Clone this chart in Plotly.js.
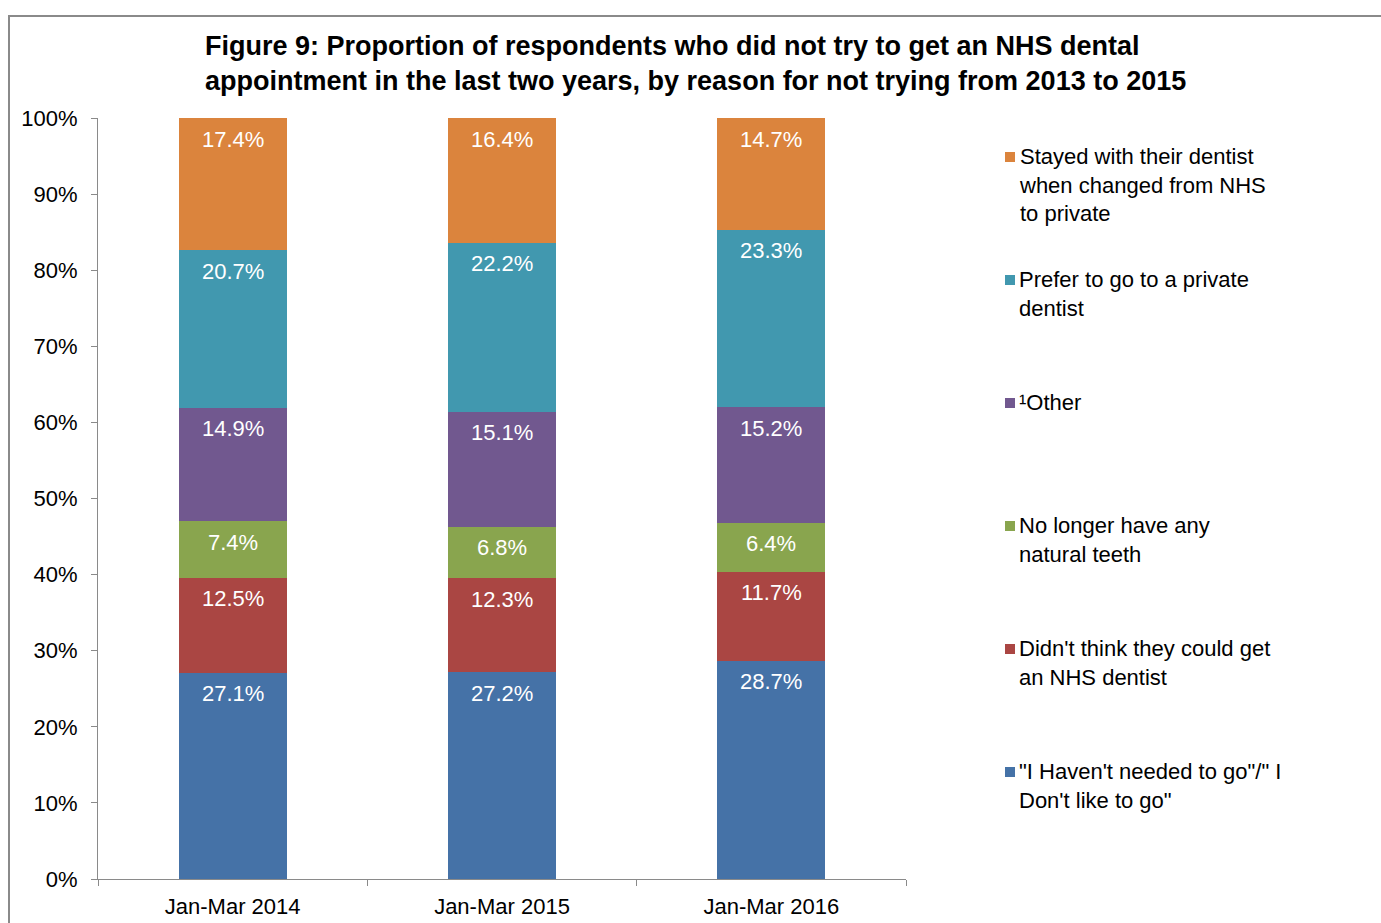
<!DOCTYPE html>
<html>
<head>
<meta charset="utf-8">
<script src="https://cdn.plot.ly/plotly-3.0.1.min.js"></script>
<style>html,body{margin:0;padding:0;background:#fff;}#chart{width:1381px;height:923px;}</style>
</head>
<body>
<div id="chart"></div>
<script>
const categories = ["Jan-Mar 2014", "Jan-Mar 2015", "Jan-Mar 2016"];
const seriesNames = [
  "\"I Haven't needed to go\"/\" I<br>Don't like to go\"",
  "Didn't think they could get<br>an NHS dentist",
  "No longer have any<br>natural teeth",
  "¹Other",
  "Prefer to go to a private<br>dentist",
  "Stayed with their dentist<br>when changed from NHS<br>to private"
];
const haventNeeded = [27.1, 27.2, 28.7];
const couldntGet   = [12.5, 12.3, 11.7];
const noTeeth      = [7.4, 6.8, 6.4];
const other        = [14.9, 15.1, 15.2];
const preferPrivate= [20.7, 22.2, 23.3];
const stayed       = [17.4, 16.4, 14.7];
const yTickVals = [0,10,20,30,40,50,60,70,80,90,100];
const yTickText = ["0%","10%","20%","30%","40%","50%","60%","70%","80%","90%","100%"];

const seriesValues = [haventNeeded, couldntGet, noTeeth, other, preferPrivate, stayed];
const colors = ["#4572A7", "#AA4643", "#89A54E", "#71588F", "#4198AF", "#DB843D"];
const FONT = "Liberation Sans, Arial, sans-serif";

const traces = seriesValues.map((vals, i) => ({
  type: "bar",
  x: categories,
  y: vals,
  name: seriesNames[i],
  width: 0.4,
  marker: {color: colors[i], line: {width: 0}},
  hoverinfo: "none",
  showlegend: false
}));

const annotations = [];
categories.forEach((c, ci) => {
  let cum = 0;
  seriesValues.forEach((vals, si) => {
    cum += vals[ci];
    annotations.push({
      x: c, y: cum, xref: "x", yref: "y",
      text: vals[ci].toFixed(1) + "%",
      showarrow: false, yanchor: "middle", yshift: -21,
      font: {family: FONT, size: 22, color: "#ffffff"}
    });
  });
});

const shapes = [];
const legendTop = 157;
const legendStep = 123;
const H = 923, plotTop = 118, plotBottom = 879, plotH = plotBottom - plotTop;
const plotLeft = 98, plotRight = 906, plotW = plotRight - plotLeft;
const px2x = p => (p - plotLeft) / plotW;
const px2y = p => (plotBottom - p) / plotH;
for (let k = 0; k < seriesNames.length; k++) {
  const si = seriesNames.length - 1 - k;
  const cy = legendTop + k * legendStep;
  shapes.push({
    type: "rect", xref: "paper", yref: "paper",
    x0: px2x(1005), x1: px2x(1015), y0: px2y(cy + 5), y1: px2y(cy - 5),
    fillcolor: colors[si], line: {width: 0}
  });
  annotations.push({
    xref: "paper", yref: "paper", x: px2x(1017), y: px2y(cy - 15),
    xanchor: "left", yanchor: "top", align: "left",
    text: seriesNames[si], showarrow: false,
    font: {family: FONT, size: 22, color: "#000000"}
  });
}
shapes.push({type: "line", xref: "paper", yref: "paper", x0: px2x(9), x1: px2x(9), y0: px2y(16), y1: px2y(930), line: {color: "#8a8a8a", width: 2}});
shapes.push({type: "line", xref: "paper", yref: "paper", x0: px2x(8), x1: px2x(1390), y0: px2y(16), y1: px2y(16), line: {color: "#8a8a8a", width: 2}});

const layout = {
  width: 1381, height: 923,
  margin: {l: plotLeft, r: 1381 - plotRight, t: plotTop, b: H - plotBottom, pad: 0},
  paper_bgcolor: "#ffffff", plot_bgcolor: "#ffffff",
  barmode: "stack",
  showlegend: false,
  title: {
    text: "<b>Figure 9: Proportion of respondents who did not try to get an NHS dental<br>appointment in the last two years, by reason for not trying from 2013 to 2015</b>",
    xref: "container", yref: "container", x: 205 / 1381, xanchor: "left",
    y: 1 - 55 / 923, yanchor: "middle",
    font: {family: FONT, size: 27, color: "#000000"}
  },
  xaxis: {
    type: "category", showgrid: false, zeroline: false,
    showline: true, linecolor: "#8a8a8a", linewidth: 1,
    ticks: "outside", tickson: "boundaries", ticklen: 6, tickcolor: "#8a8a8a", tickwidth: 1,
    ticklabelstandoff: 8,
    tickfont: {family: FONT, size: 22, color: "#000000"},
    fixedrange: true
  },
  yaxis: {
    range: [0, 100], showgrid: false, zeroline: false,
    showline: true, linecolor: "#8a8a8a", linewidth: 1,
    ticks: "outside", ticklen: 6, tickcolor: "#8a8a8a", tickwidth: 1,
    tickvals: yTickVals, ticktext: yTickText,
    ticklabelstandoff: 9,
    tickfont: {family: FONT, size: 22, color: "#000000"},
    fixedrange: true
  },
  annotations: annotations,
  shapes: shapes
};

Plotly.newPlot("chart", traces, layout, {displayModeBar: false, staticPlot: true});
</script>
</body>
</html>
